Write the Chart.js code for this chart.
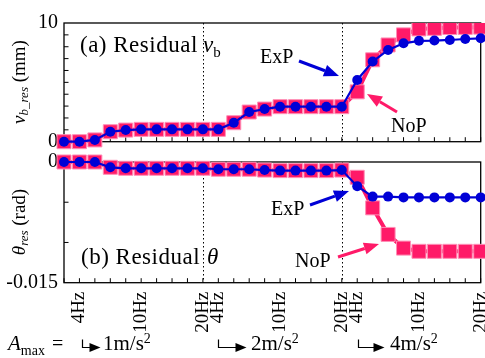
<!DOCTYPE html>
<html>
<head>
<meta charset="utf-8">
<script src="https://cdn.jsdelivr.net/npm/chart.js@4.4.0/dist/chart.umd.min.js"></script>
<style>
  html, body { margin: 0; padding: 0; background: #fff; }
  #wrap { position: relative; width: 485px; height: 358px; }
  canvas { position: absolute; left: 0; top: 0; }
</style>
</head>
<body>
<div id="wrap">
  <canvas id="vbChart" width="485" height="358"></canvas>
  <canvas id="thChart" width="485" height="358"></canvas>
</div>
<script>
// x categories: three excitation groups (Amax = 1, 2, 4 m/s^2)
const xLabels = ['', '4Hz', '', '', '', '10Hz', '', '', '', '20Hz',
                 '4Hz', '', '', '', '10Hz', '', '', '', '20Hz',
                 '4Hz', '', '', '', '10Hz', '', '', '', '20Hz'];
const groupEnds = [9, 18];

// (a) residual v_b (mm)
const vbExP = [0, 0, 0.15, 0.84, 0.98, 1.04, 1.04, 1.04, 1.04, 1.04, 1.04, 1.6, 2.5, 2.75,
               2.95, 2.95, 2.95, 2.95, 2.95, 5.2, 6.75, 7.73, 8.29, 8.5, 8.52, 8.57, 8.65, 8.71];
const vbNoP = [0, 0, 0.15, 0.84, 0.98, 1.04, 1.04, 1.04, 1.04, 1.04, 1.04, 1.6, 2.5, 2.75,
               2.95, 2.95, 2.95, 2.95, 2.95, 4.2, 6.9, 8.15, 9.0, 9.5, 9.55, 9.62, 9.63, 9.65];

// (b) residual theta (rad)
const thExP = [0, 0, 0, -0.00066, -0.00078, -0.00078, -0.00078, -0.00078, -0.00078, -0.00078,
               -0.0009, -0.0009, -0.0009, -0.001, -0.00107, -0.00107, -0.00107, -0.00107, -0.001,
               -0.003, -0.0043, -0.0043, -0.0044, -0.0044, -0.0044, -0.0044, -0.0044, -0.0044];
const thNoP = [0, 0, 0, -0.00066, -0.00078, -0.00078, -0.00078, -0.00078, -0.00078, -0.00078,
               -0.0009, -0.0009, -0.0009, -0.001, -0.00107, -0.00107, -0.00107, -0.00107, -0.001,
               -0.0019, -0.0057, -0.009, -0.0107, -0.0111, -0.0111, -0.0111, -0.0111, -0.0111];

const vbMinorTicks = [1, 2, 3, 4, 5, 6, 7, 8, 9];
const thMinorTicks = [-0.005, -0.01];

const SERIF = '"Liberation Serif", "Times New Roman", serif';
const PINK = '#ff1a68';
const BLUE = '#0000d6';

function expDataset(values) {
  return {
    label: 'ExP', data: values, order: 0,
    borderColor: BLUE, borderWidth: 2.2, backgroundColor: BLUE,
    pointStyle: 'circle', pointRadius: 5, pointBorderWidth: 0,
    tension: 0, clip: false
  };
}
function nopDataset(values, clip) {
  return {
    label: 'NoP', data: values, order: 1,
    borderColor: PINK, borderWidth: 4, backgroundColor: PINK,
    pointStyle: 'rect', pointRadius: 9.9, pointBorderWidth: 1,
    pointBorderColor: '#ff8fb6',
    tension: 0, clip: clip
  };
}

// helper: draw text made of several font runs
function runs(ctx, x, y, parts) {
  parts.forEach(([t, size, italic, dy]) => {
    ctx.font = (italic ? 'italic ' : '') + size + 'px ' + SERIF;
    ctx.fillText(t, x, y + (dy || 0));
    x += ctx.measureText(t).width;
  });
  return x;
}
function runsWidth(ctx, parts) {
  let w = 0;
  parts.forEach(([t, size, italic]) => {
    ctx.font = (italic ? 'italic ' : '') + size + 'px ' + SERIF;
    w += ctx.measureText(t).width;
  });
  return w;
}
function yTitle(ctx, cx, cy, parts) {
  ctx.save();
  ctx.translate(cx, cy);
  ctx.rotate(-Math.PI / 2);
  ctx.textBaseline = 'middle';
  runs(ctx, -runsWidth(ctx, parts) / 2, 0, parts);
  ctx.restore();
}
function arrow(ctx, x1, y1, x2, y2, color) {
  const ang = Math.atan2(y2 - y1, x2 - x1), hl = 15, hw = 6;
  const bx = x2 - hl * Math.cos(ang), by = y2 - hl * Math.sin(ang);
  ctx.save();
  ctx.strokeStyle = color; ctx.fillStyle = color; ctx.lineWidth = 3;
  ctx.beginPath(); ctx.moveTo(x1, y1); ctx.lineTo(bx, by); ctx.stroke();
  ctx.beginPath();
  ctx.moveTo(x2, y2);
  ctx.lineTo(bx + hw * Math.sin(ang), by - hw * Math.cos(ang));
  ctx.lineTo(bx - hw * Math.sin(ang), by + hw * Math.cos(ang));
  ctx.closePath(); ctx.fill();
  ctx.restore();
}
function bentArrow(ctx, x0, yb, len) {
  ctx.save();
  ctx.strokeStyle = '#000'; ctx.fillStyle = '#000'; ctx.lineWidth = 1.2;
  ctx.beginPath();
  ctx.moveTo(x0, yb - 8); ctx.lineTo(x0, yb); ctx.lineTo(x0 + len - 9, yb);
  ctx.stroke();
  ctx.beginPath();
  ctx.moveTo(x0 + len - 11, yb - 4.5); ctx.lineTo(x0 + len, yb); ctx.lineTo(x0 + len - 11, yb + 4.5);
  ctx.closePath(); ctx.fill();
  ctx.restore();
}

// frame, inward ticks and dotted group separators
function framePlugin(minorTicks) {
  return {
    id: 'frame',
    beforeDatasetsDraw(chart) {
      const { ctx, chartArea: a, scales: { x, y } } = chart;
      ctx.save();
      ctx.strokeStyle = '#000';
      ctx.lineWidth = 1.3;
      ctx.strokeRect(a.left, a.top, a.right - a.left, a.bottom - a.top);
      ctx.lineWidth = 1;
      ctx.beginPath();
      xLabels.forEach((_, i) => {
        const px = x.getPixelForValue(i);
        ctx.moveTo(px, a.bottom); ctx.lineTo(px, a.bottom - 4.5);
      });
      minorTicks.forEach(v => {
        const py = y.getPixelForValue(v);
        ctx.moveTo(a.left, py); ctx.lineTo(a.left + 4.5, py);
      });
      ctx.stroke();
      ctx.setLineDash([1.5, 2.5]);
      ctx.beginPath();
      groupEnds.forEach(i => {
        const px = Math.round(x.getPixelForValue(i)) + 0.5;
        ctx.moveTo(px, a.top); ctx.lineTo(px, a.bottom);
      });
      ctx.stroke();
      ctx.restore();
    }
  };
}

const vbNotes = {
  id: 'vbNotes',
  afterDraw(chart) {
    const ctx = chart.ctx;
    ctx.save();
    ctx.fillStyle = '#000';
    ctx.textBaseline = 'alphabetic';
    ctx.letterSpacing = '0.5px';
    runs(ctx, 80, 51.5, [['(a) Residual', 23]]);
    ctx.letterSpacing = '0px';
    runs(ctx, 203, 51.5, [['v', 23, true], ['b', 15, false, 5]]);
    runs(ctx, 260, 62.5, [['ExP', 20]]);
    runs(ctx, 391, 131.5, [['NoP', 20]]);
    arrow(ctx, 299, 61, 339, 76, BLUE);
    arrow(ctx, 397, 112, 367, 94, PINK);
    yTitle(ctx, 20, 82, [['v', 19, true], ['b_res', 13, true, 5], [' (mm)', 19]]);
    ctx.restore();
  }
};

const thNotes = {
  id: 'thNotes',
  afterDraw(chart) {
    const ctx = chart.ctx;
    ctx.save();
    ctx.fillStyle = '#000';
    ctx.textBaseline = 'alphabetic';
    ctx.letterSpacing = '0.5px';
    runs(ctx, 81, 263.5, [['(b) Residual', 23]]);
    ctx.letterSpacing = '0px';
    runs(ctx, 207, 263.5, [['\u03b8', 23, true]]);
    runs(ctx, 271, 215, [['ExP', 20]]);
    runs(ctx, 295, 266.5, [['NoP', 20]]);
    arrow(ctx, 310, 205, 349, 191, BLUE);
    arrow(ctx, 338, 257, 379, 244, PINK);
    yTitle(ctx, 20, 222, [['\u03b8', 19, true], ['res', 13, true, 5], [' (rad)', 19]]);
    // excitation amplitude row
    runs(ctx, 8, 350, [['A', 21, true], ['max', 14, false, 5]]);
    runs(ctx, 52, 350, [['=', 20]]);
    bentArrow(ctx, 82.5, 347.5, 18);
    runs(ctx, 103, 350, [['1m/s', 21], ['2', 14, false, -7]]);
    bentArrow(ctx, 218.5, 347.5, 28);
    runs(ctx, 251, 350, [['2m/s', 21], ['2', 14, false, -7]]);
    bentArrow(ctx, 358.5, 347.5, 26);
    runs(ctx, 390, 350, [['4m/s', 21], ['2', 14, false, -7]]);
    ctx.restore();
  }
};

const yTickFont = { family: SERIF, size: 20 };

new Chart(document.getElementById('vbChart'), {
  type: 'line',
  data: { labels: xLabels, datasets: [expDataset(vbExP), nopDataset(vbNoP, { left: false, top: 0, right: false, bottom: false })] },
  options: {
    responsive: false, animation: false,
    layout: { autoPadding: false, padding: { left: 0, top: 23, right: 4.3, bottom: 216.3 } },
    plugins: { legend: { display: false }, tooltip: { enabled: false } },
    scales: {
      x: { display: false, offset: false },
      y: {
        min: 0, max: 10,
        grid: { display: false, drawTicks: false }, border: { display: false },
        ticks: { stepSize: 10, padding: 6, color: '#000', font: yTickFont },
        afterFit(s) { s.width = 64; s.paddingTop = 0; s.paddingBottom = 0; }
      }
    }
  },
  plugins: [framePlugin(vbMinorTicks), vbNotes]
});

new Chart(document.getElementById('thChart'), {
  type: 'line',
  data: { labels: xLabels, datasets: [expDataset(thExP), nopDataset(thNoP, false)] },
  options: {
    responsive: false, animation: false,
    layout: { autoPadding: false, padding: { left: 0, top: 162, right: 4.3, bottom: 0 } },
    plugins: { legend: { display: false }, tooltip: { enabled: false } },
    scales: {
      x: {
        offset: false,
        grid: { display: false, drawTicks: false }, border: { display: false },
        ticks: { autoSkip: false, maxRotation: 90, minRotation: 90, padding: 9, color: '#000', font: { family: SERIF, size: 19 } },
        afterFit(s) { s.height = 75.3; s.paddingLeft = 0; s.paddingRight = 0; }
      },
      y: {
        min: -0.015, max: 0,
        grid: { display: false, drawTicks: false }, border: { display: false },
        ticks: { stepSize: 0.015, padding: 6, color: '#000', font: yTickFont,
                 callback: v => (Math.abs(v) < 1e-9 ? '0' : String(v)) },
        afterFit(s) { s.width = 64; s.paddingTop = 0; s.paddingBottom = 0; }
      }
    }
  },
  plugins: [framePlugin(thMinorTicks), thNotes]
});
</script>
</body>
</html>
